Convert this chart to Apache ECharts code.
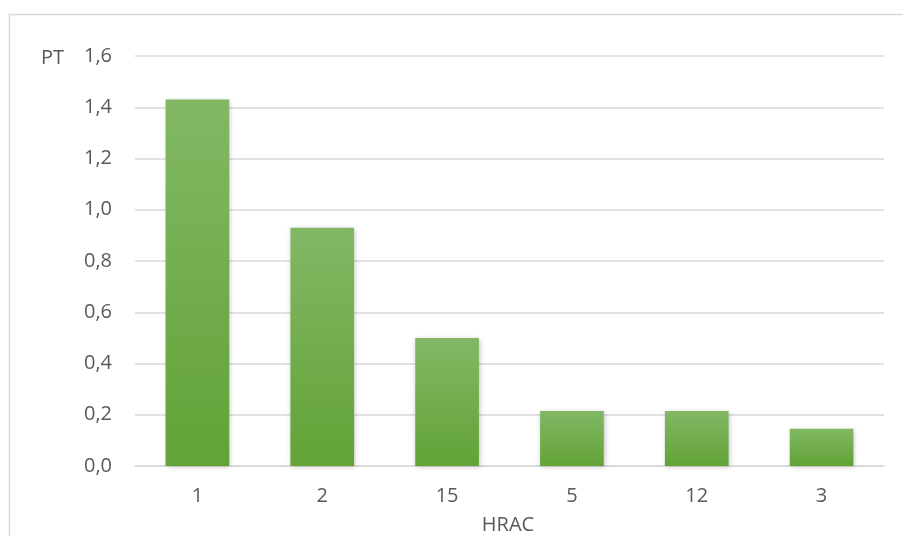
<!DOCTYPE html>
<html>
<head>
<meta charset="utf-8">
<script src="https://cdn.jsdelivr.net/npm/echarts@6/dist/echarts.min.js"></script>
<style>
  html, body { margin: 0; padding: 0; background: #fff; }
  #chart { width: 903px; height: 536px; }
</style>
</head>
<body>
<div id="chart"></div>
<script>
// HRAC groups and their PT values
const categories = ['1', '2', '15', '5', '12', '3'];
const ptValues = [1.43, 0.93, 0.50, 0.215, 0.215, 0.145];
const yTicks = { min: 0, max: 1.6, interval: 0.2 };

const chart = echarts.init(document.getElementById('chart'), null, { renderer: 'canvas' });
const textColor = '#595959';
const font = '"Open Sans", "Liberation Sans", sans-serif';
const fontSize = 20;

chart.setOption({
  animation: false,
  graphic: [
    {
      type: 'polyline',
      shape: { points: [[9.5, 540], [9.5, 14.5], [910, 14.5]] },
      style: { stroke: '#d9d9d9', lineWidth: 1.5, fill: null }
    },
    {
      type: 'text', x: 41, y: 58,
      style: { text: 'PT', fill: textColor, fontSize: fontSize, fontFamily: font, textAlign: 'left', textVerticalAlign: 'middle' }
    },
    {
      type: 'text', x: 508, y: 525,
      style: { text: 'HRAC', fill: textColor, fontSize: fontSize, fontFamily: font, textAlign: 'center', textVerticalAlign: 'middle' }
    }
  ],
  grid: { left: 135, right: 19, top: 56, bottom: 70, containLabel: false },
  xAxis: {
    type: 'category',
    data: categories,
    axisLine: { show: true, lineStyle: { color: '#d9d9d9', width: 1.5 } },
    axisTick: { show: false },
    axisLabel: { color: textColor, fontSize: fontSize, fontFamily: font, margin: 20 }
  },
  yAxis: {
    type: 'value',
    min: yTicks.min, max: yTicks.max, interval: yTicks.interval,
    axisLine: { show: false },
    axisTick: { show: false },
    splitLine: { lineStyle: { color: '#d9d9d9', width: 1.5 } },
    axisLabel: {
      color: textColor, fontSize: fontSize, fontFamily: font, margin: 23,
      formatter: v => v.toFixed(1).replace('.', ',')
    }
  },
  series: [{
    type: 'bar',
    data: ptValues,
    barWidth: '51%',
    itemStyle: {
      color: new echarts.graphic.LinearGradient(0, 0, 0, 1, [
        { offset: 0, color: '#82b865' },
        { offset: 1, color: '#62a236' }
      ]),
      shadowColor: 'rgba(0,0,0,0.25)',
      shadowBlur: 5,
      shadowOffsetX: 1,
      shadowOffsetY: 1
    }
  }]
});
</script>
</body>
</html>
